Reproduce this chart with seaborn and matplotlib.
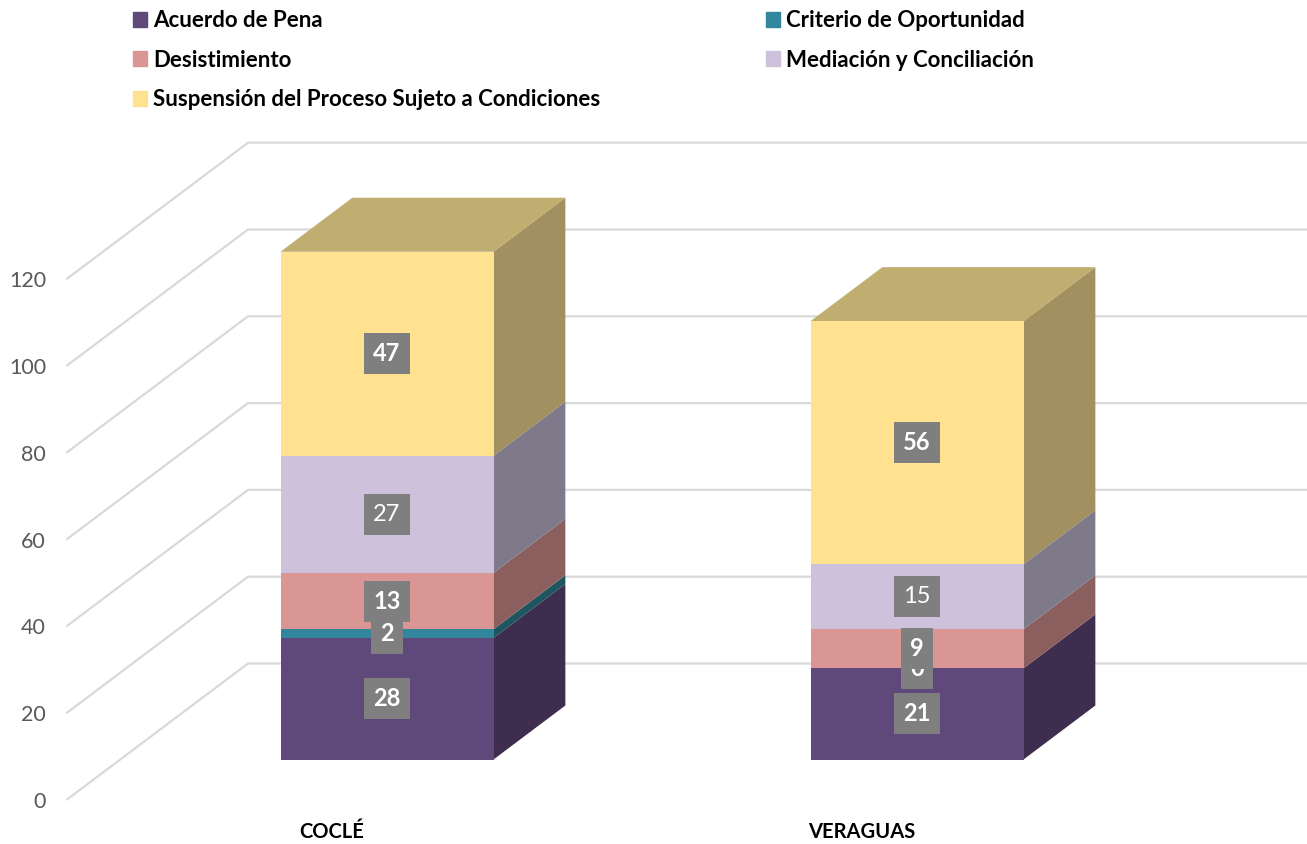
import matplotlib
matplotlib.use("Agg")
import matplotlib.pyplot as plt
from matplotlib.patches import Patch
from matplotlib.path import Path
import numpy as np
import seaborn as sns

# datos de la grafica
provincias = ["COCLÉ", "VERAGUAS"]
series = ["Acuerdo de Pena", "Criterio de Oportunidad", "Desistimiento",
          "Mediación y Conciliación", "Suspensión del Proceso Sujeto a Condiciones"]
acuerdo = [28, 21]
criterio = [2, 0]
desistimiento = [13, 9]
mediacion = [27, 15]
suspension = [47, 56]
y_ticks = [0, 20, 40, 60, 80, 100, 120]

colores = ["#5F497A", "#31859C", "#D99694", "#CEC1DC", "#FFE28F"]
colores_lado = ["#3E2D4E", "#1F5561", "#8B5F5E", "#7F7A8A", "#A39060"]
color_tapa = "#C0AD70"
color_rejilla = "#D9D9D9"

# geometria en pixeles de la figura
W, H = 1307, 844
PX_UNIDAD = 4.34     # pixeles por unidad del eje y
BASE_PX = 759.5      # base de las barras
CENTRO_PX = 387      # centro de la primera barra
PASO_PX = 530        # distancia entre barras
FONDO_DX, FONDO_DY = 181, 136   # desplazamiento de toda la profundidad


def proyectar(x, v, d):
    """Pasa una posicion (categoria, valor, profundidad) al plano de la figura"""
    return x + d * FONDO_DX / PASO_PX, v + d * FONDO_DY / PX_UNIDAD


def caja_label(x0, y0, width, height, mutation_size):
    # caja gris de los labels: mas alta que el texto, como en el original
    x0, x1 = x0 - 9, x0 + width + 9
    medio = y0 + height / 2
    y_a, y_b = medio - 20.5, medio + 20.5
    return Path([(x0, y_a), (x1, y_a), (x1, y_b), (x0, y_b), (x0, y_a)], closed=True)


sns.set_style("white")
plt.rcParams["font.family"] = ["Lato", "DejaVu Sans"]

fig = plt.figure(figsize=(W / 100, H / 100), dpi=100)
ax = fig.add_axes([0, 0, 1, 1])

ancho = 213 / PASO_PX
prof = 0.397
d_frente = -40 / FONDO_DY
d_fondo = d_frente + 1

# barras apiladas, cara frontal con seaborn
valores = [acuerdo, criterio, desistimiento, mediacion, suspension]
base = np.zeros(len(provincias))
for nombre, vals, color in zip(series, valores, colores):
    sns.barplot(x=provincias, y=vals, color=color, bottom=base, width=ancho,
                saturation=1, errorbar=None, ax=ax, zorder=3, linewidth=0, edgecolor="none")
    base = base + np.array(vals)

ax.set_xlim(-CENTRO_PX / PASO_PX, (W - CENTRO_PX) / PASO_PX)
ax.set_ylim((BASE_PX - H) / PX_UNIDAD, BASE_PX / PX_UNIDAD)
ax.axis("off")

# caras laterales y tapa
base = np.zeros(len(provincias))
for vals, lado in zip(valores, colores_lado):
    for i, v in enumerate(vals):
        xd = i + ancho / 2
        puntos = [proyectar(xd, base[i], 0), proyectar(xd, base[i] + v, 0),
                  proyectar(xd, base[i] + v, prof), proyectar(xd, base[i], prof)]
        ax.fill(*zip(*puntos), color=lado, lw=0, zorder=2.5)
    base = base + np.array(vals)
for i, total in enumerate(base):
    xi, xd = i - ancho / 2, i + ancho / 2
    puntos = [proyectar(xi, total, 0), proyectar(xd, total, 0),
              proyectar(xd, total, prof), proyectar(xi, total, prof)]
    ax.fill(*zip(*puntos), color=color_tapa, lw=0, zorder=2.5)

# rejilla: pared izquierda y pared del fondo
x_fondo = (248 - CENTRO_PX) / PASO_PX - d_fondo * FONDO_DX / PASO_PX
x_fin = (W - CENTRO_PX) / PASO_PX - d_fondo * FONDO_DX / PASO_PX
for t in y_ticks:
    p0 = proyectar(x_fondo, t, d_frente)
    p1 = proyectar(x_fondo, t, d_fondo)
    p2 = proyectar(x_fin, t, d_fondo)
    ax.plot([p0[0], p1[0], p2[0]], [p0[1], p1[1], p2[1]], color=color_rejilla, lw=1.6, zorder=1)
    ax.text(p0[0] - 21 / PASO_PX, p0[1] - 2.5 / PX_UNIDAD, str(t), ha="right", va="center",
            fontsize=15.5, color="#595959")

# labels de cada segmento (27 y 15 van sin negrita en el original)
for cont, nombre in zip(ax.containers, series):
    peso = "normal" if nombre.startswith("Mediación") else "bold"
    ax.bar_label(cont, label_type="center", fontsize=17, color="white", fontweight=peso,
                 bbox=dict(boxstyle=caja_label, fc="#7F7F7F", ec="none"), zorder=5)

# etiquetas de provincia
for i, prov in enumerate(provincias):
    px, _ = proyectar(i, 0, d_frente)
    ax.text(px - 2 / PASO_PX, (BASE_PX - 832.5) / PX_UNIDAD, prov, ha="center", va="center",
            fontsize=14.5, fontweight="bold", color="black")

# leyenda, orden por columnas
orden = [0, 2, 4, 1, 3]
handles = [Patch(color=colores[k], label=series[k]) for k in orden]
fs = 16
fs_px = fs * 100 / 72
ax.legend(handles=handles, ncols=2, loc="upper left", bbox_to_anchor=(133 / W, 1 - 10 / H),
          frameon=False, borderpad=0, borderaxespad=0,
          prop={"size": fs, "weight": "bold"}, labelcolor="black",
          handlelength=14 / fs_px, handleheight=0.66, handletextpad=6 / fs_px,
          labelspacing=(40 - fs_px * 0.96) / fs_px, columnspacing=166 / fs_px)

fig.savefig("out.png", dpi=100)
plt.close(fig)
